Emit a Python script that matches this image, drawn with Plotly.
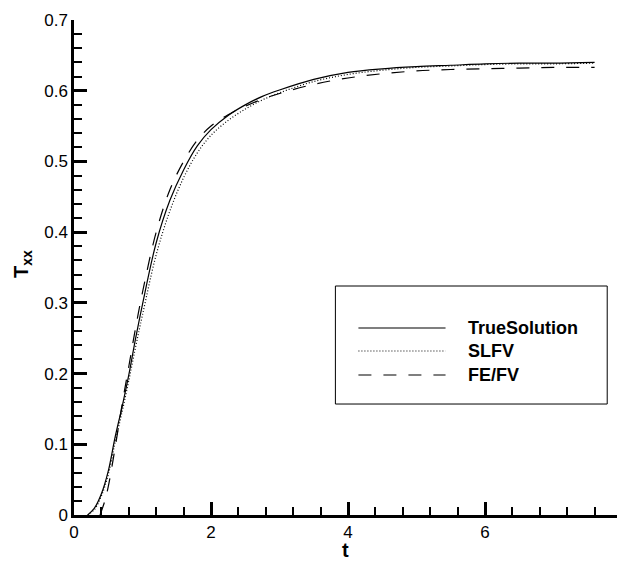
import plotly.graph_objects as go

# ---- data ----
t_true = [0.2, 0.3, 0.4, 0.5, 0.6, 0.7, 0.8, 0.9, 1.0, 1.2, 1.4, 1.6, 1.8, 2.0, 2.25,
          2.5, 2.75, 3.0, 3.5, 4.0, 4.5, 5.0, 5.5, 6.0, 6.5, 7.0, 7.6]
T_true = [0.0, 0.01, 0.03, 0.062, 0.11, 0.152, 0.198, 0.25, 0.298, 0.385, 0.445, 0.488,
          0.522, 0.545, 0.565, 0.58, 0.592, 0.601, 0.616, 0.626, 0.631, 0.634, 0.636,
          0.638, 0.639, 0.639, 0.64]

t_slfv = [0.2, 0.3, 0.4, 0.5, 0.6, 0.7, 0.8, 0.9, 1.0, 1.2, 1.4, 1.6, 1.8, 2.0, 2.25,
          2.5, 2.75, 3.0, 3.5, 4.0, 4.5, 5.0, 5.5, 6.0, 6.5, 7.0, 7.6]
T_slfv = [0.0, 0.008, 0.027, 0.057, 0.103, 0.145, 0.19, 0.238, 0.283, 0.368, 0.43, 0.477,
          0.512, 0.537, 0.558, 0.574, 0.587, 0.597, 0.613, 0.623, 0.629, 0.633, 0.635,
          0.637, 0.638, 0.638, 0.639]

t_fefv = [0.38, 0.45, 0.5, 0.6, 0.7, 0.8, 0.9, 1.0, 1.2, 1.4, 1.6, 1.8, 2.0, 2.25,
          2.5, 2.75, 3.0, 3.5, 4.0, 4.5, 5.0, 5.5, 6.0, 6.5, 7.0, 7.6]
T_fefv = [0.0, 0.02, 0.04, 0.095, 0.155, 0.21, 0.265, 0.315, 0.4, 0.46, 0.5, 0.53, 0.55,
          0.566, 0.578, 0.588, 0.596, 0.609, 0.618, 0.624, 0.628, 0.630, 0.631, 0.632,
          0.633, 0.633]

series_names = ["TrueSolution", "SLFV", "FE/FV"]
series_dash = ["solid", "1px,2px", "13px,12px"]

FONT = "Liberation Sans, Arial, Helvetica, sans-serif"

fig = go.Figure()
for (x, y), name, dash in zip([(t_true, T_true), (t_slfv, T_slfv), (t_fefv, T_fefv)],
                              series_names, series_dash):
    fig.add_trace(go.Scatter(x=x, y=y, mode="lines", name=name, line_shape="spline",
                             line=dict(color="black", width=1.2, dash=dash),
                             showlegend=False))

axis_common = dict(showgrid=False, zeroline=False, showline=True, linecolor="black",
                   linewidth=2.5, ticks="inside", tickcolor="black", tickwidth=2.5,
                   ticklen=13, tickfont=dict(family=FONT, size=17, color="black"),
                   mirror=False, automargin=False, ticklabeloverflow="allow")

fig.update_xaxes(range=[0, 8], dtick=2, tick0=0,
                 minor=dict(ticks="inside", dtick=0.4, ticklen=8, tickwidth=1.5,
                            tickcolor="black", showgrid=False),
                 **axis_common)
fig.update_yaxes(range=[0, 0.7], dtick=0.1, tick0=0,
                 minor=dict(ticks="inside", dtick=0.02, ticklen=8, tickwidth=1.5,
                            tickcolor="black", showgrid=False),
                 **axis_common)

# axis titles
fig.add_annotation(xref="paper", yref="paper", x=0.495, y=-0.0707, text="<b>t</b>",
                   showarrow=False, xanchor="center", yanchor="middle",
                   font=dict(family=FONT, size=20, color="black"))
fig.add_annotation(xref="paper", yref="paper", x=-0.095, y=0.507,
                   text="<b>T<sub>xx</sub></b>", textangle=-90,
                   showarrow=False, xanchor="center", yanchor="middle",
                   font=dict(family=FONT, size=20, color="black"))

# ---- manual legend box ----
x0p, x1p = 0.477, 0.973
y0p, y1p = 0.2242, 0.4626
fig.add_shape(type="rect", xref="paper", yref="paper", x0=x0p, x1=x1p, y0=y0p, y1=y1p,
              line=dict(color="black", width=1), fillcolor="white", layer="above")
rows_y = [0.3778, 0.3313, 0.2828]
for name, dash, ry in zip(series_names, series_dash, rows_y):
    fig.add_shape(type="line", xref="paper", yref="paper", x0=0.519, x1=0.678,
                  y0=ry, y1=ry, line=dict(color="black", width=1.2, dash=dash),
                  layer="above")
    fig.add_annotation(xref="paper", yref="paper", x=0.716, y=ry, text="<b>%s</b>" % name,
                       showarrow=False, xanchor="left", yanchor="middle",
                       font=dict(family=FONT, size=18, color="black"))

# the page body offsets the figure by 8px; margins compensate so the plot area lands
# close to where the reference has it, keeping room above for the top tick label
fig.update_layout(width=625, height=561, plot_bgcolor="white", paper_bgcolor="white",
                  margin=dict(l=65.5, r=11.3, t=12, b=54), showlegend=False)

fig.write_html("out.html")
